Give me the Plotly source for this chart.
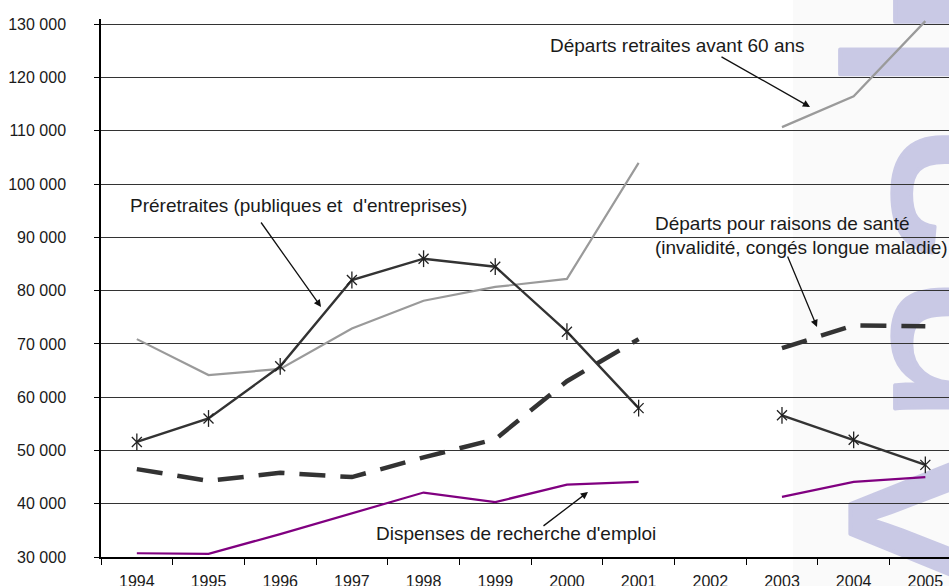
import base64
import plotly.graph_objects as go

years = ["1994", "1995", "1996", "1997", "1998", "1999", "2000", "2001", "2002", "2003", "2004", "2005"]
retraites_avant_60 = [70900, 64150, 65300, 72900, 78100, 80700, 82200, 104000, None, 110700, 116500, 130600]
preretraites = [51600, 56000, 65800, 82000, 86000, 84500, 72300, 57950, None, 56600, 52000, 47300]
raisons_sante = [46500, 44300, 45800, 45000, 48700, 52100, 63000, 70900, None, 69200, 73500, 73300]
dispenses = [30700, 30600, 34300, 38200, 42100, 40300, 43600, 44100, None, 41300, 44100, 45000]
y_tickvals = [30000, 40000, 50000, 60000, 70000, 80000, 90000, 100000, 110000, 120000, 130000]
y_ticktext = ["30 000", "40 000", "50 000", "60 000", "70 000", "80 000", "90 000",
              "100 000", "110 000", "120 000", "130 000"]

W, H = 949, 586
ML, MR, MT, MB = 101, 0, 19, 29
PW, PH = W - ML - MR, H - MT - MB
FONT = "Liberation Sans, Arial, Helvetica, sans-serif"


def px(xp):
    return (xp - ML) / PW


def py(yp):
    return (H - MB - yp) / PH


fig = go.Figure()
fig.add_trace(go.Scatter(x=years, y=retraites_avant_60, mode="lines",
                         line=dict(color="#9a9a9a", width=2.2), connectgaps=False,
                         hoverinfo="skip", showlegend=False))
fig.add_trace(go.Scatter(x=years, y=raisons_sante, mode="lines",
                         line=dict(color="#333333", width=4.5, dash="26px,15px"), connectgaps=False,
                         hoverinfo="skip", showlegend=False))
fig.add_trace(go.Scatter(x=years, y=dispenses, mode="lines",
                         line=dict(color="#800080", width=2.2), connectgaps=False,
                         hoverinfo="skip", showlegend=False))
fig.add_trace(go.Scatter(x=years, y=preretraites, mode="lines+markers",
                         line=dict(color="#333333", width=2.4), connectgaps=False,
                         marker=dict(symbol="x-thin-open", size=10, color="#222222",
                                     line=dict(color="#222222", width=1.3)),
                         hoverinfo="skip", showlegend=False))
fig.add_trace(go.Scatter(x=years, y=preretraites, mode="markers",
                         marker=dict(symbol="line-ns-open", size=12, color="#222222",
                                     line=dict(color="#222222", width=1.3)),
                         hoverinfo="skip", showlegend=False))

# watermark (background decoration): rotated letters, placed glyph by glyph
wm_x0 = 793
wm_w = W - wm_x0
base_x = 1043 - wm_x0
origin_y = 613
glyphs = [("A", 613), ("n", 427), ("a", 271), ("l", 93), ("u", 40)]
tspans = "".join(
    f'<tspan x="{origin_y - gy}" y="0">{ch}</tspan>' for ch, gy in glyphs
)
svg = (
    f'<svg xmlns="http://www.w3.org/2000/svg" width="{wm_w}" height="{H}" viewBox="0 0 {wm_w} {H}">'
    f'<rect x="0" y="0" width="{wm_w}" height="{H}" fill="#fafafa"/>'
    f'<text transform="translate({base_x},{origin_y}) rotate(-90)" '
    f'font-family="Liberation Sans, Arial, sans-serif" font-size="280" fill="#c9c9e5" '
    f'stroke="#c9c9e5" stroke-width="4" stroke-linejoin="round">{tspans}</text>'
    f'</svg>'
)
src = "data:image/svg+xml;base64," + base64.b64encode(svg.encode()).decode()
fig.add_layout_image(dict(source=src, xref="paper", yref="paper",
                          x=px(wm_x0), y=py(0), sizex=wm_w / PW, sizey=H / PH,
                          xanchor="left", yanchor="top", sizing="stretch", layer="below"))

text_font = dict(family=FONT, size=19, color="#1a1a1a")
labels = [
    ("Départs retraites avant 60 ans", 548, 45),
    ("Préretraites (publiques et  d'entreprises)", 128, 206),
    ("Départs pour raisons de santé", 653, 223),
    ("(invalidité, congés longue maladie)", 653, 247),
    ("Dispenses de recherche d'emploi", 374, 533),
]
for txt, lx, ly in labels:
    fig.add_annotation(text=txt, xref="paper", yref="paper", x=px(lx), y=py(ly),
                       xanchor="left", yanchor="middle", showarrow=False, font=text_font)

arrows = [  # (tail px, head px)
    ((720, 56), (810, 107)),
    ((260, 221), (321, 307)),
    ((787, 255), (817, 327)),
    ((542, 527), (588, 492)),
]
for (tx, ty), (hx, hy) in arrows:
    fig.add_annotation(text="", xref="paper", yref="paper", x=px(hx), y=py(hy),
                       axref="pixel", ayref="pixel", ax=tx - hx, ay=ty - hy,
                       showarrow=True, arrowhead=2, arrowsize=1.1, arrowwidth=1.3,
                       arrowcolor="#111111")

fig.update_layout(
    width=W, height=H,
    margin=dict(l=ML, r=MR, t=MT, b=MB, autoexpand=False),
    paper_bgcolor="white", plot_bgcolor="white",
    font=dict(family=FONT, size=16, color="#1a1a1a"),
    showlegend=False,
)
fig.update_xaxes(type="category", range=[-0.5, 11.33], showgrid=False, zeroline=False,
                 showline=True, linecolor="black", linewidth=1.5,
                 ticks="outside", tickson="boundaries", ticklen=6, tickcolor="black",
                 ticklabelstandoff=9,
                 tickfont=dict(family=FONT, size=16, color="#1a1a1a"), automargin=False)
fig.update_yaxes(range=[30000, 131000], tickvals=y_tickvals, ticktext=y_ticktext,
                 showgrid=True, gridcolor="#333333", gridwidth=1, zeroline=False,
                 showline=True, linecolor="black", linewidth=1.5,
                 ticks="outside", ticklen=5, tickcolor="black", ticklabelstandoff=25,
                 tickfont=dict(family=FONT, size=16, color="#1a1a1a"), automargin=False)

fig.write_html("out.html", config={"displayModeBar": False},
               post_script="document.body.style.margin='0';document.body.style.padding='0';")
